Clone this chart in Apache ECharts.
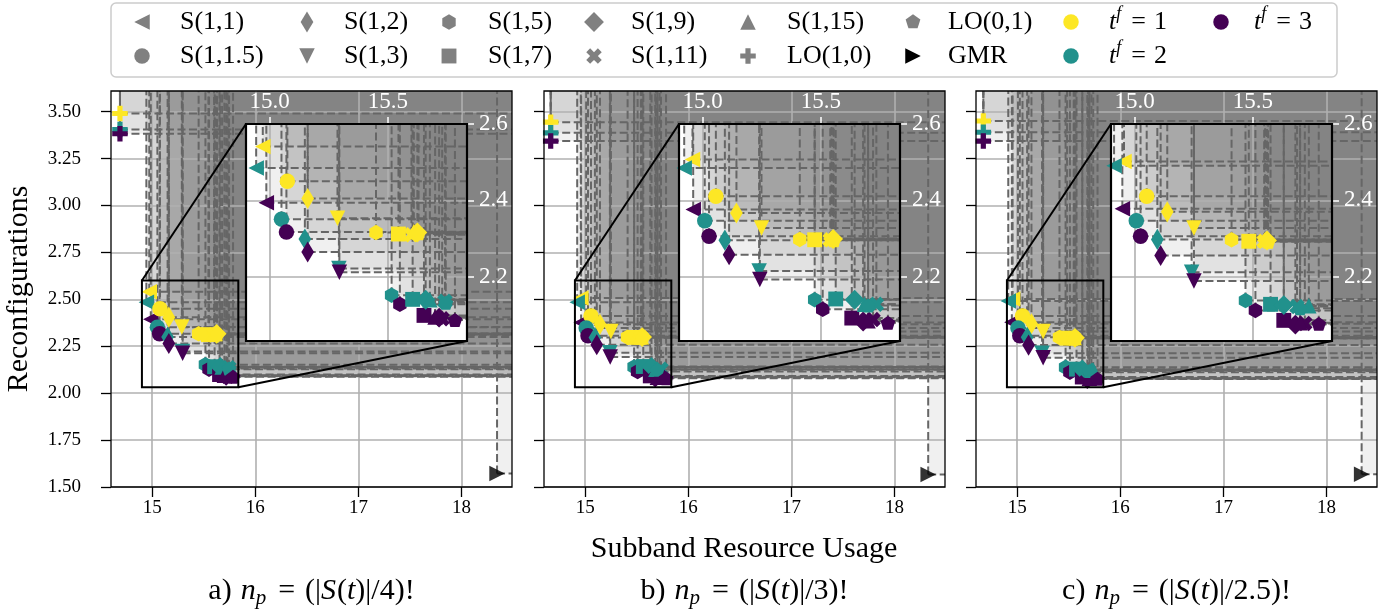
<!DOCTYPE html>
<html><head><meta charset="utf-8">
<script src="https://cdn.jsdelivr.net/npm/echarts@6/dist/echarts.min.js"></script>
<style>html,body{margin:0;padding:0;background:#fff}#c{width:1398px;height:610px}</style>
</head><body><div id="c"></div>
<script>
// ---------------- DATA ----------------
const schemes = ['S(1,1)','S(1,1.5)','S(1,2)','S(1,3)','S(1,5)','S(1,7)','S(1,9)','S(1,11)','S(1,15)','LO(0,1)','LO(1,0)'];
// panel a) n_p = (|S(t)|/4)!   [usage, reconfigurations] per scheme
const a_tf1 = [[14.971,2.541],[15.075,2.450],[15.161,2.405],[15.287,2.353],[15.450,2.316],[15.545,2.312],[15.625,2.316],[15.600,2.310],[15.610,2.318],[15.630,2.314],[14.687,3.490]];
const a_tf2 = [[14.943,2.485],[15.050,2.351],[15.149,2.299],[15.293,2.222],[15.516,2.152],[15.605,2.141],[15.660,2.140],[15.742,2.136],[15.678,2.140],[15.745,2.132],[14.687,3.405]];
const a_tf3 = [[14.986,2.394],[15.071,2.317],[15.161,2.265],[15.295,2.212],[15.551,2.128],[15.653,2.099],[15.717,2.093],[15.730,2.090],[15.700,2.095],[15.784,2.087],[14.687,3.382]];
const a_gmr = [18.345,1.572];
// panel b) n_p = (|S(t)|/3)!
const b_tf1 = [[14.957,2.507],[15.056,2.411],[15.143,2.367],[15.249,2.328],[15.411,2.298],[15.474,2.297],[15.552,2.299],[15.540,2.297],[15.545,2.300],[15.555,2.296],[14.665,3.444]];
const b_tf2 = [[14.922,2.485],[15.009,2.347],[15.094,2.296],[15.239,2.215],[15.474,2.140],[15.563,2.142],[15.643,2.140],[15.735,2.128],[15.685,2.128],[15.700,2.125],[14.665,3.387]];
const b_tf3 = [[14.960,2.376],[15.027,2.306],[15.112,2.258],[15.242,2.193],[15.508,2.115],[15.631,2.092],[15.679,2.083],[15.721,2.088],[15.700,2.085],[15.784,2.080],[14.665,3.343]];
const b_gmr = [18.327,1.566];
// panel c) n_p = (|S(t)|/2.5)!
const c_tf1 = [[14.955,2.502],[15.051,2.411],[15.138,2.370],[15.251,2.328],[15.410,2.297],[15.483,2.293],[15.560,2.295],[15.548,2.293],[15.552,2.297],[15.565,2.292],[14.671,3.450]];
const c_tf2 = [[14.913,2.491],[15.007,2.347],[15.096,2.298],[15.241,2.212],[15.469,2.138],[15.575,2.128],[15.631,2.126],[15.687,2.122],[15.737,2.124],[15.700,2.118],[14.671,3.390]];
const c_tf3 = [[14.948,2.378],[15.025,2.306],[15.110,2.256],[15.251,2.189],[15.511,2.112],[15.631,2.086],[15.680,2.075],[15.720,2.078],[15.700,2.080],[15.779,2.077],[14.671,3.343]];
const c_gmr = [18.341,1.568];

const mainXTicks = [15,16,17,18];
const mainYTicks = [1.5,1.75,2.0,2.25,2.5,2.75,3.0,3.25,3.5];
const insetXTicks = [15.0,15.5];
const insetYTicks = [2.2,2.4,2.6];
const mainXRange = [14.6,18.49];
const mainYRange = [1.5,3.61];
const insetXRange = [14.9,15.835];
const insetYRange = [2.032,2.6];
const denominators = ['4','3','2.5'];
const panelLetters = ['a)','b)','c)'];
const tfLabels = ['1','2','3'];

// ---------------- STYLE ----------------
const FONT = '"Liberation Serif","DejaVu Serif",serif';
const tfColors = ['#fde725','#21918c','#440154'];
const schemeShapes = ['<','o','d','v','h','s','D','X','^','p','P'];
const M = 15.5;
const panelLefts = [111,544,976];

function regPoly(n, r, rot){const p=[];for(let k=0;k<n;k++){const a=(rot+360*k/n)*Math.PI/180;p.push([r*Math.cos(a),r*Math.sin(a)]);}return p;}
const shapePts = {
  '<': [[-.5,0],[.5,-.5],[.5,.5]],
  'v': [[-.5,-.5],[.5,-.5],[0,.5]],
  '^': [[0,-.5],[.5,.5],[-.5,.5]],
  '>': [[-.5,-.5],[.5,0],[-.5,.5]],
  'd': [[0,-.68],[.41,0],[0,.68],[-.41,0]],
  'D': [[0,-.64],[.64,0],[0,.64],[-.64,0]],
  's': [[-.48,-.48],[.48,-.48],[.48,.48],[-.48,.48]],
  'h': regPoly(6,.5,-90),
  'p': regPoly(5,.5,-90),
  'X': [[-1,-2],[0,-1],[1,-2],[2,-1],[1,0],[2,1],[1,2],[0,1],[-1,2],[-2,1],[-1,0],[-2,-1]].map(q=>[q[0]/4,q[1]/4]),
  'P': [[-1,-3],[1,-3],[1,-1],[3,-1],[3,1],[1,1],[1,3],[-1,3],[-1,1],[-3,1],[-3,-1],[-1,-1]].map(q=>[q[0]/6,q[1]/6])
};
function symPath(sh){
  if(sh==='o') return 'circle';
  const p = shapePts[sh];
  return 'path://' + p.map((q,i)=>(i?'L':'M')+(q[0]*100).toFixed(2)+','+(q[1]*100).toFixed(2)).join('') + 'Z';
}
function symSize(sh){
  if(sh==='o') return M;
  const p = shapePts[sh];
  const xs=p.map(q=>q[0]), ys=p.map(q=>q[1]);
  return [(Math.max(...xs)-Math.min(...xs))*M,(Math.max(...ys)-Math.min(...ys))*M];
}

const FILL = 'rgba(128,128,128,0.12)';
const DASH = {stroke:'#666666', lineWidth:2, lineDash:[8,3.5]};
function fillItem(params, api){
  const cs = params.coordSys;
  const p = api.coord([api.value(0), api.value(1)]);
  const L=cs.x, R=cs.x+cs.width, T=cs.y, B=cs.y+cs.height;
  if(p[0]>=R || p[1]<=T) return null;
  const x0=Math.max(p[0],L), y0=Math.min(p[1],B);
  return {type:'rect', shape:{x:x0,y:T,width:R-x0,height:y0-T}, style:{fill:FILL}};
}
function lineItem(params, api){
  const cs = params.coordSys;
  const p = api.coord([api.value(0), api.value(1)]);
  const L=cs.x, R=cs.x+cs.width, T=cs.y, B=cs.y+cs.height;
  const ch=[];
  if(p[0]>=L && p[0]<=R && p[1]>T){
    ch.push({type:'line', shape:{x1:p[0],y1:Math.min(p[1],B),x2:p[0],y2:T}, style:DASH});
  }
  if(p[1]>=T && p[1]<=B && p[0]<R){
    ch.push({type:'line', shape:{x1:Math.max(p[0],L),y1:p[1],x2:R,y2:p[1]}, style:DASH});
  }
  return {type:'group', children:ch};
}

const panels = [
  {tf:[a_tf1,a_tf2,a_tf3], gmr:a_gmr},
  {tf:[b_tf1,b_tf2,b_tf3], gmr:b_gmr},
  {tf:[c_tf1,c_tf2,c_tf3], gmr:c_gmr}
];

const grid=[], xAxis=[], yAxis=[], series=[];
panels.forEach((P,i)=>{
  const L = panelLefts[i];
  grid.push({left:L, top:91, width:401, height:396, show:false, containLabel:false, outerBoundsMode:'none'});
  grid.push({left:L+135, top:124, width:221, height:217, show:true, backgroundColor:'#ffffff', borderWidth:0, z:10, containLabel:false, outerBoundsMode:'none'});
  const mg=2*i, ig=2*i+1;
  xAxis.push({gridIndex:mg, type:'value', min:mainXRange[0], max:mainXRange[1], splitNumber:4, z:2,
    axisLine:{show:false},
    axisTick:{show:true, customValues:mainXTicks, length:10, inside:false, lineStyle:{color:'#000', width:1.3}},
    axisLabel:{show:true, customValues:mainXTicks, margin:12, fontSize:19, fontFamily:FONT, color:'#000', formatter:v=>String(Math.round(v))},
    splitLine:{show:true, lineStyle:{color:'#b0b0b0', width:1.6}}});
  yAxis.push({gridIndex:mg, type:'value', min:mainYRange[0], max:mainYRange[1], interval:0.25, z:2,
    axisLine:{show:false},
    axisTick:{show:true, customValues:mainYTicks, length:10, inside:false, lineStyle:{color:'#000', width:1.3}},
    axisLabel:{show:i===0, customValues:mainYTicks, margin:30, fontSize:19, fontFamily:FONT, color:'#000', formatter:v=>v.toFixed(2)},
    splitLine:{show:true, lineStyle:{color:'#b0b0b0', width:1.6}}});
  xAxis.push({gridIndex:ig, type:'value', position:'top', min:insetXRange[0], max:insetXRange[1], splitNumber:2, z:12,
    axisLine:{show:false},
    axisTick:{show:true, customValues:insetXTicks, length:7, inside:false, lineStyle:{color:'#fff', width:1.5}},
    axisLabel:{show:true, customValues:insetXTicks, margin:11, fontSize:23, fontFamily:FONT, color:'#fff', formatter:v=>v.toFixed(1)},
    splitLine:{show:true, lineStyle:{color:'#b0b0b0', width:1.6}}});
  yAxis.push({gridIndex:ig, type:'value', position:'right', min:insetYRange[0], max:insetYRange[1], splitNumber:3, z:12,
    axisLine:{show:false},
    axisTick:{show:true, customValues:insetYTicks, length:7, inside:false, lineStyle:{color:'#fff', width:1.5}},
    axisLabel:{show:true, customValues:insetYTicks, margin:12, fontSize:23, fontFamily:FONT, color:'#fff', formatter:v=>v.toFixed(1)},
    splitLine:{show:true, lineStyle:{color:'#b0b0b0', width:1.6}}});

  const allPts=[];
  P.tf.forEach(arr=>arr.forEach(p=>allPts.push(p)));
  allPts.push(P.gmr);
  [mg, ig].forEach((gi,k)=>{
    const zb = k ? 10 : 0;
    series.push({type:'custom', xAxisIndex:gi, yAxisIndex:gi, z:zb+1, silent:true, encode:{x:0,y:1}, data:allPts, renderItem:fillItem});
    series.push({type:'custom', xAxisIndex:gi, yAxisIndex:gi, z:zb+3, silent:true, encode:{x:0,y:1}, data:allPts, renderItem:lineItem});
    schemes.forEach((name,s)=>{
      const sh = schemeShapes[s];
      series.push({type:'scatter', name, xAxisIndex:gi, yAxisIndex:gi, z:zb+4, clip:true, silent:true,
        symbol:symPath(sh), symbolSize:symSize(sh),
        data:P.tf.map((arr,t)=>({value:arr[s], itemStyle:{color:tfColors[t], opacity:1}}))});
    });
    series.push({type:'scatter', name:'GMR', xAxisIndex:gi, yAxisIndex:gi, z:zb+4, clip:true, silent:true,
      symbol:symPath('>'), symbolSize:symSize('>'), data:[{value:P.gmr, itemStyle:{color:'#000'}}]});
  });
});

const chart = echarts.init(document.getElementById('c'), null, {renderer:'canvas', width:1398, height:610});
chart.setOption({animation:false, backgroundColor:'#fff', grid, xAxis, yAxis, series});

// ---------------- overlays: frames, inset indicator, text ----------------
const ctx = document.createElement('canvas').getContext('2d');
function fontStr(s){return (s.it?'italic ':'')+s.size+'px '+FONT;}
function segTexts(segs, x, baseY, align, size, z){
  segs.forEach(s=>{ if(!s.size) s.size=size; });
  const ws = segs.map(s=>{ctx.font=fontStr(s); return ctx.measureText(s.t).width + (s.pl||0) + (s.pr||0);});
  const tot = ws.reduce((a,b)=>a+b,0);
  let cx = align==='center' ? x-tot/2 : x;
  return segs.map((s,i)=>{
    const el = {type:'text', x:cx+(s.pl||0), y:baseY-0.305*s.size+(s.dy||0), z:z||30,
      style:{text:s.t, font:fontStr(s), fill:'#000', align:'left', verticalAlign:'middle'}};
    cx += ws[i];
    return el;
  });
}
function markerEl(sh, cx, cy, color){
  if(sh==='o') return {type:'circle', shape:{cx, cy, r:M/2}, style:{fill:color}, z:30};
  return {type:'polygon', shape:{points:shapePts[sh].map(q=>[cx+q[0]*M, cy+q[1]*M])}, style:{fill:color}, z:30};
}

const g = [];
panels.forEach((P,i)=>{
  const mg=2*i, ig=2*i+1;
  const mtl = chart.convertToPixel({gridIndex:mg},[mainXRange[0],mainYRange[1]]);
  const mbr = chart.convertToPixel({gridIndex:mg},[mainXRange[1],mainYRange[0]]);
  g.push({type:'rect', z:5, shape:{x:mtl[0],y:mtl[1],width:mbr[0]-mtl[0],height:mbr[1]-mtl[1]}, style:{fill:null, stroke:'#000', lineWidth:1.3}});
  const itl = chart.convertToPixel({gridIndex:mg},[insetXRange[0],insetYRange[1]]);
  const ibr = chart.convertToPixel({gridIndex:mg},[insetXRange[1],insetYRange[0]]);
  const otl = chart.convertToPixel({gridIndex:ig},[insetXRange[0],insetYRange[1]]);
  const obr = chart.convertToPixel({gridIndex:ig},[insetXRange[1],insetYRange[0]]);
  g.push({type:'rect', z:6, shape:{x:itl[0],y:itl[1],width:ibr[0]-itl[0],height:ibr[1]-itl[1]}, style:{fill:null, stroke:'#000', lineWidth:2}});
  g.push({type:'line', z:6, shape:{x1:itl[0],y1:itl[1],x2:otl[0],y2:otl[1]}, style:{stroke:'#000', lineWidth:2}});
  g.push({type:'line', z:6, shape:{x1:ibr[0],y1:ibr[1],x2:obr[0],y2:obr[1]}, style:{stroke:'#000', lineWidth:2}});
  g.push({type:'rect', z:25, shape:{x:otl[0],y:otl[1],width:obr[0]-otl[0],height:obr[1]-otl[1]}, style:{fill:null, stroke:'#000', lineWidth:2.2}});
  // subtitle
  const cxp = (mtl[0]+mbr[0])/2;
  segTexts([{t:panelLetters[i],pr:9},{t:'n',it:1},{t:'p',it:1,size:21,dy:5,pr:2},{t:'=',pl:10,pr:10},{t:'(|'},{t:'S',it:1,pr:1},{t:'('},{t:'t',it:1},{t:')|/'+denominators[i]+')!'}], cxp, 600, 'center', 30).forEach(e=>g.push(e));
});
// axis titles
g.push({type:'text', x:744, y:549, z:30, style:{text:'Subband Resource Usage', font:'30px '+FONT, fill:'#000', align:'center', verticalAlign:'middle'}});
g.push({type:'text', x:19, y:289, z:30, rotation:Math.PI/2, style:{text:'Reconfigurations', font:'30px '+FONT, fill:'#000', align:'center', verticalAlign:'middle'}});

// legend
g.push({type:'rect', z:28, shape:{x:111,y:3,width:1226,height:74,r:5}, style:{fill:'rgba(255,255,255,0.8)', stroke:'#cccccc', lineWidth:1.5}});
const legMarkX = [142,307,449,594,748,913,1071,1221];
const legTextX = [180,344,488,631,787,948,1109,1254];
const rowY = [22,56];
const legendItems = [
  [0,0,'<','S(1,1)'],[0,1,'o','S(1,1.5)'],[1,0,'d','S(1,2)'],[1,1,'v','S(1,3)'],
  [2,0,'h','S(1,5)'],[2,1,'s','S(1,7)'],[3,0,'D','S(1,9)'],[3,1,'X','S(1,11)'],
  [4,0,'^','S(1,15)'],[4,1,'P','LO(1,0)'],[5,0,'p','LO(0,1)'],[5,1,'>','GMR']
];
legendItems.forEach(([c,r,sh,lab])=>{
  g.push(markerEl(sh, legMarkX[c], rowY[r], sh==='>'?'#000':'#808080'));
  segTexts([{t:lab}], legTextX[c], rowY[r]+8, 'left', 26).forEach(e=>g.push(e));
});
[[6,0,0],[6,1,1],[7,0,2]].forEach(([c,r,t])=>{
  g.push(markerEl('o', legMarkX[c], rowY[r], tfColors[t]));
  segTexts([{t:'t',it:1},{t:'f',it:1,size:18,dy:-10,pr:2},{t:'=',pl:8,pr:8},{t:tfLabels[t]}], legTextX[c], rowY[r]+8, 'left', 26).forEach(e=>g.push(e));
});
chart.setOption({graphic:{elements:g}});
</script></body></html>
